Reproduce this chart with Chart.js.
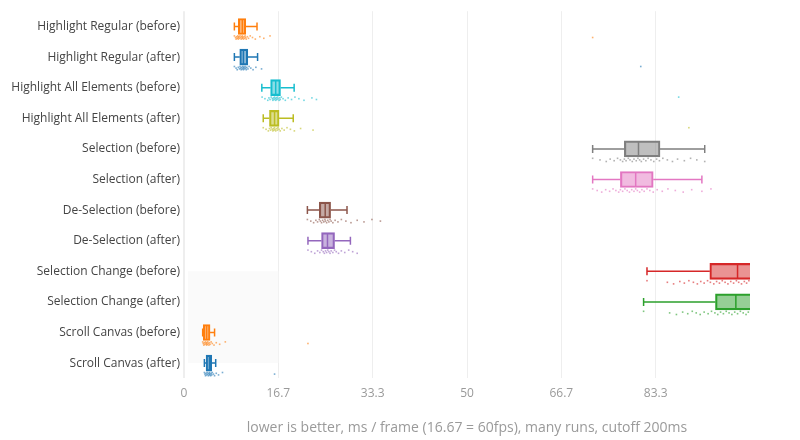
<!DOCTYPE html>
<html>
<head>
<meta charset="utf-8">
<script src="https://cdn.jsdelivr.net/npm/chart.js@4"></script>
<style>
  html, body { margin: 0; padding: 0; background: #fff; }
  #wrap { width: 800px; height: 440px; }
</style>
</head>
<body>
<div id="wrap"><canvas id="chart"></canvas></div>
<script>
const categories = [
  'Highlight Regular (before)', 'Highlight Regular (after)',
  'Highlight All Elements (before)', 'Highlight All Elements (after)',
  'Selection (before)', 'Selection (after)',
  'De-Selection (before)', 'De-Selection (after)',
  'Selection Change (before)', 'Selection Change (after)',
  'Scroll Canvas (before)', 'Scroll Canvas (after)'
];
const colors = [
  '#ff7f0e', '#1f77b4', '#17becf', '#bcbd22', '#7f7f7f', '#e377c2',
  '#8c564b', '#9467bd', '#d62728', '#2ca02c', '#ff7f0e', '#1f77b4'
];
const lowerWhisker = [8.9, 8.9, 13.75, 14.0, 72.2, 72.2, 21.8, 21.9, 81.8, 81.2, 3.3, 3.6];
const q1 = [9.6, 9.85, 15.3, 15.1, 77.8, 77.1, 23.9, 24.3, 92.9, 93.9, 3.4, 3.9];
const median = [10.3, 10.5, 16.2, 16.0, 80.3, 79.8, 24.95, 25.35, 97.8, 97.5, 4.0, 4.5];
const q3 = [10.9, 11.27, 17.05, 16.8, 84.1, 82.9, 25.9, 26.6, 104, 103, 4.6, 4.9];
const upperWhisker = [12.9, 13.0, 19.46, 19.3, 92.0, 91.5, 28.8, 29.4, 118, 116, 5.4, 5.6];
const samples = [
  [8.9, 9.1, 9.2, 9.3, 9.4, 9.5, 9.6, 9.6, 9.7, 9.8, 9.9, 10.0, 10.1, 10.2, 10.3, 10.3, 10.4, 10.5, 10.6, 10.7, 10.8, 10.9, 11.0, 11.2, 11.4, 11.7, 12.1, 12.6, 13.4, 14.1, 15.2, 72.2],
  [8.9, 9.2, 9.4, 9.6, 9.8, 9.9, 10.0, 10.1, 10.2, 10.3, 10.4, 10.5, 10.5, 10.6, 10.7, 10.8, 10.9, 11.0, 11.1, 11.3, 11.5, 11.8, 12.2, 12.7, 13.7, 80.7],
  [13.8, 14.3, 14.8, 15.0, 15.2, 15.4, 15.6, 15.7, 15.8, 15.9, 16.0, 16.1, 16.2, 16.3, 16.4, 16.5, 16.6, 16.8, 16.9, 17.0, 17.2, 17.5, 17.9, 18.4, 19.0, 19.6, 20.3, 21.2, 22.6, 23.4, 87.4],
  [14.0, 14.5, 14.9, 15.1, 15.3, 15.4, 15.6, 15.7, 15.8, 15.9, 16.0, 16.1, 16.2, 16.4, 16.5, 16.6, 16.8, 17.0, 17.3, 17.7, 18.2, 18.8, 19.5, 20.6, 22.8, 89.2],
  [72.2, 73.5, 74.6, 75.3, 76.0, 76.6, 77.1, 77.5, 77.8, 78.1, 78.5, 78.8, 79.2, 79.5, 79.9, 80.2, 80.5, 80.8, 81.2, 81.6, 82.0, 82.5, 83.0, 83.5, 84.0, 84.6, 85.4, 86.3, 87.2, 88.4, 89.5, 90.6, 92.0],
  [72.2, 73.0, 73.8, 74.5, 75.2, 75.8, 76.3, 76.8, 77.1, 77.5, 77.9, 78.3, 78.7, 79.1, 79.5, 79.8, 80.1, 80.5, 80.9, 81.3, 81.8, 82.3, 82.9, 83.6, 84.5, 85.5, 86.8, 88.2, 89.7, 91.5, 93.1],
  [21.8, 22.4, 22.9, 23.3, 23.6, 23.9, 24.1, 24.3, 24.5, 24.7, 24.9, 25.0, 25.2, 25.4, 25.6, 25.8, 26.0, 26.3, 26.7, 27.2, 27.8, 28.6, 29.5, 30.6, 31.8, 33.2, 34.7],
  [21.9, 22.5, 23.1, 23.6, 24.0, 24.3, 24.6, 24.8, 25.0, 25.2, 25.4, 25.6, 25.8, 26.0, 26.3, 26.6, 26.9, 27.3, 27.8, 28.4, 29.1, 29.8, 30.6],
  [81.8, 85.4, 86.5, 87.6, 88.4, 89.2, 90.0, 90.7, 91.3, 91.9, 92.5, 93.0, 93.6, 94.1, 94.6, 95.1, 95.6, 96.1, 96.6, 97.1, 97.6, 98.0, 98.5, 99.0, 99.4, 99.8, 101, 103, 106, 110],
  [81.2, 85.8, 87.0, 88.1, 89.0, 89.8, 90.5, 91.2, 91.9, 92.6, 93.2, 93.8, 94.3, 94.8, 95.3, 95.8, 96.3, 96.8, 97.3, 97.8, 98.3, 98.8, 99.3, 99.7, 101, 104, 108],
  [3.3, 3.4, 3.5, 3.6, 3.7, 3.8, 3.9, 4.0, 4.0, 4.1, 4.2, 4.3, 4.4, 4.5, 4.6, 4.8, 5.0, 5.3, 5.7, 6.3, 7.3, 21.9],
  [3.6, 3.7, 3.8, 3.9, 4.0, 4.1, 4.2, 4.3, 4.4, 4.5, 4.5, 4.6, 4.7, 4.8, 4.9, 5.0, 5.2, 5.4, 5.7, 6.1, 6.8, 16.0]
];
const xTicks = [0, 16.67, 33.33, 50, 66.67, 83.33];
const xTitle = 'lower is better, ms / frame (16.67 = 60fps), many runs, cutoff 200ms';

function alpha(hex, a) {
  const n = parseInt(hex.slice(1), 16);
  return `rgba(${n >> 16}, ${(n >> 8) & 255}, ${n & 255}, ${a})`;
}

// whiskers, medians and sample points drawn on top of the floating bars
const boxParts = {
  id: 'boxParts',
  beforeDatasetsDraw(chart) {
    const { ctx, scales: { x, y } } = chart;
    ctx.save();
    ctx.fillStyle = '#fafafa';
    const x0 = x.getPixelForValue(0.7), x1 = x.getPixelForValue(16.67);
    const y0 = y.getPixelForValue(8), y1 = y.getPixelForValue(11);
    ctx.fillRect(x0, y0, x1 - x0, y1 - y0);
    ctx.restore();
  },
  afterDatasetsDraw(chart) {
    const { ctx, chartArea, scales: { x, y } } = chart;
    ctx.save();
    ctx.beginPath();
    ctx.rect(chartArea.left, chartArea.top, chartArea.right - chartArea.left, chartArea.bottom - chartArea.top);
    ctx.clip();
    categories.forEach((c, i) => {
      const cy = y.getPixelForValue(i);
      const col = colors[i];
      const wl = x.getPixelForValue(lowerWhisker[i]);
      const wh = x.getPixelForValue(upperWhisker[i]);
      const b1 = x.getPixelForValue(q1[i]);
      const b3 = x.getPixelForValue(q3[i]);
      const m = x.getPixelForValue(median[i]);
      ctx.strokeStyle = col;
      ctx.lineWidth = 1.5;
      ctx.beginPath();
      ctx.moveTo(wl, cy); ctx.lineTo(b1, cy);
      ctx.moveTo(b3, cy); ctx.lineTo(wh, cy);
      ctx.moveTo(wl, cy - 4); ctx.lineTo(wl, cy + 4);
      ctx.moveTo(wh, cy - 4); ctx.lineTo(wh, cy + 4);
      ctx.stroke();
      ctx.beginPath();
      ctx.moveTo(m, cy - 7); ctx.lineTo(m, cy + 7);
      ctx.stroke();
      ctx.fillStyle = alpha(col, 0.6);
      samples[i].forEach((v, k) => {
        const jy = cy + 11 + ((k * 7) % 5 - 2) * 0.8;
        ctx.fillRect(x.getPixelForValue(v) - 0.8, jy - 0.8, 1.6, 1.6);
      });
    });
    ctx.restore();
  }
};

new Chart(document.getElementById('chart'), {
  type: 'bar',
  data: {
    labels: categories,
    datasets: [{
      data: categories.map((c, i) => [q1[i], q3[i]]),
      backgroundColor: colors.map(c => alpha(c, 0.5)),
      borderColor: colors,
      borderWidth: 1.5,
      borderSkipped: false,
      barThickness: 16,
      clip: 0
    }]
  },
  options: {
    indexAxis: 'y',
    responsive: true,
    maintainAspectRatio: false,
    animation: false,
    layout: { padding: { top: 10, right: 50, left: 0, bottom: 0 } },
    plugins: { legend: { display: false }, tooltip: { enabled: false } },
    scales: {
      x: {
        type: 'linear',
        min: 0,
        max: 100,
        afterBuildTicks: s => { s.ticks = xTicks.map(v => ({ value: v })); },
        afterFit: s => { s.height = 61.6; },
        border: { display: false },
        grid: {
          color: '#eeeeee',
          lineWidth: ctx => (ctx.tick && ctx.tick.value === 0 ? 2 : 1),
          drawTicks: false
        },
        ticks: {
          padding: 8,
          color: '#9a9a9a',
          font: { family: 'Open Sans', size: 12 },
          callback: v => String(Math.round(v * 10) / 10)
        },
        title: {
          display: true,
          text: xTitle,
          color: '#9a9a9a',
          font: { family: 'Open Sans', size: 14 },
          padding: { top: 4, bottom: 4 }
        }
      },
      y: {
        afterFit: s => { s.width = 184; },
        border: { display: false },
        grid: { display: false, drawTicks: false },
        ticks: {
          padding: 4,
          color: '#444444',
          font: { family: 'Open Sans', size: 12 }
        }
      }
    }
  },
  plugins: [boxParts]
});
</script>
</body>
</html>
